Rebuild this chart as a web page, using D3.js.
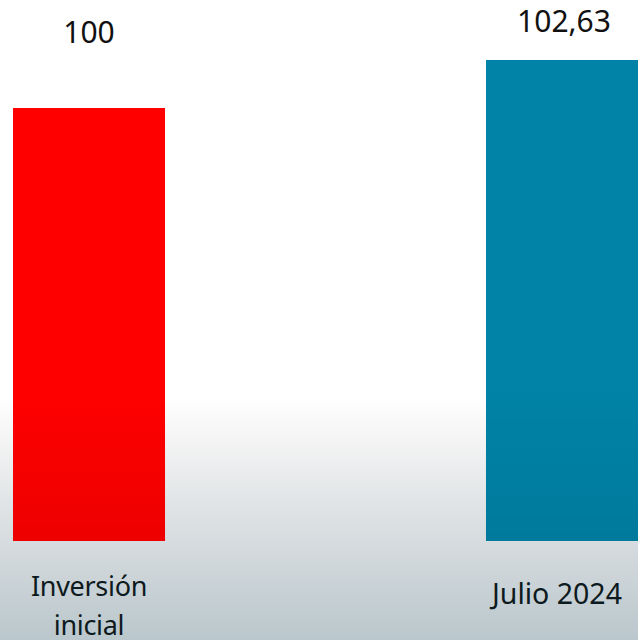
<!DOCTYPE html>
<html><head><meta charset="utf-8">
<script src="https://cdn.jsdelivr.net/npm/d3@7"></script>
<style>html,body{margin:0;padding:0;overflow:hidden;background:#fff}</style>
</head><body>
<script>
const categories = ["Inversión inicial", "Julio 2024"];
const values = [100, 102.63];
const valueLabels = ["100", "102,63"];
const colors = ["#ff0000", "#0083a7"];

const W = 638, H = 640;
const svg = d3.select("body").append("svg").attr("width", W).attr("height", H);
const defs = svg.append("defs");

const bg = defs.append("linearGradient").attr("id","bg").attr("x1",0).attr("y1",0).attr("x2",0).attr("y2",1);
[[0,"#ffffff"],[0.62,"#ffffff"],[0.68,"#f5f5f5"],[0.78,"#e2e5e7"],[0.9,"#ccd4d8"],[1,"#bac7cc"]]
  .forEach(([o,c]) => bg.append("stop").attr("offset",o).attr("stop-color",c));
svg.append("rect").attr("width",W).attr("height",H).attr("fill","url(#bg)");

const shade = defs.append("linearGradient").attr("id","shade").attr("gradientUnits","userSpaceOnUse")
  .attr("x1",0).attr("y1",0).attr("x2",0).attr("y2",H);
[[0,0],[0.6,0],[0.85,0.1],[1,0.2]].forEach(([o,a]) => shade.append("stop").attr("offset",o).attr("stop-color","#000").attr("stop-opacity",a));

const x = d3.scaleBand().domain(categories).range([13, 638]).paddingInner(0.6786).paddingOuter(0);
const y = d3.scaleLinear().domain([76.27, 102.63]).range([541, 60]);

const data = categories.map((c,i) => ({c, v: values[i], label: valueLabels[i], color: colors[i]}));

const g = svg.append("g");
g.selectAll("rect.bar").data(data).join("rect").attr("class","bar")
  .attr("x", d => x(d.c)).attr("width", x.bandwidth())
  .attr("y", d => y(d.v)).attr("height", d => y.range()[0] - y(d.v))
  .attr("fill", d => d.color);
g.selectAll("rect.shade").data(data).join("rect").attr("class","shade")
  .attr("x", d => x(d.c)).attr("width", x.bandwidth())
  .attr("y", d => y(d.v)).attr("height", d => y.range()[0] - y(d.v))
  .attr("fill", "url(#shade)").attr("opacity", 0.7);

const font = "'Noto Sans', sans-serif";
const valDx = [0, 2], valDy = [-65, -28];
g.selectAll("text.val").data(data).join("text").attr("class","val")
  .attr("x", (d,i) => x(d.c) + x.bandwidth()/2 + valDx[i])
  .attr("y", (d,i) => y(d.v) + valDy[i])
  .attr("text-anchor","middle").attr("font-family",font).attr("font-size",30).attr("fill","#111")
  .text(d => d.label);

const catLines = [["Inversión","inicial"],["Julio 2024"]];
const catBase = [596, 604], catDx = [0, -5], catSize = [27, 28.5], catLS = [-0.3, 0];
data.forEach((d,i) => {
  const cx = x(d.c) + x.bandwidth()/2 + catDx[i];
  const t = g.append("text").attr("text-anchor","middle").attr("font-family",font)
    .attr("font-size",catSize[i]).attr("letter-spacing", catLS[i]).attr("fill","#0d1a20")
    .attr("x", cx).attr("y", catBase[i]);
  catLines[i].forEach((l,j) => t.append("tspan").attr("x", cx).attr("dy", j===0?0:39).text(l));
});
</script>
</body></html>
